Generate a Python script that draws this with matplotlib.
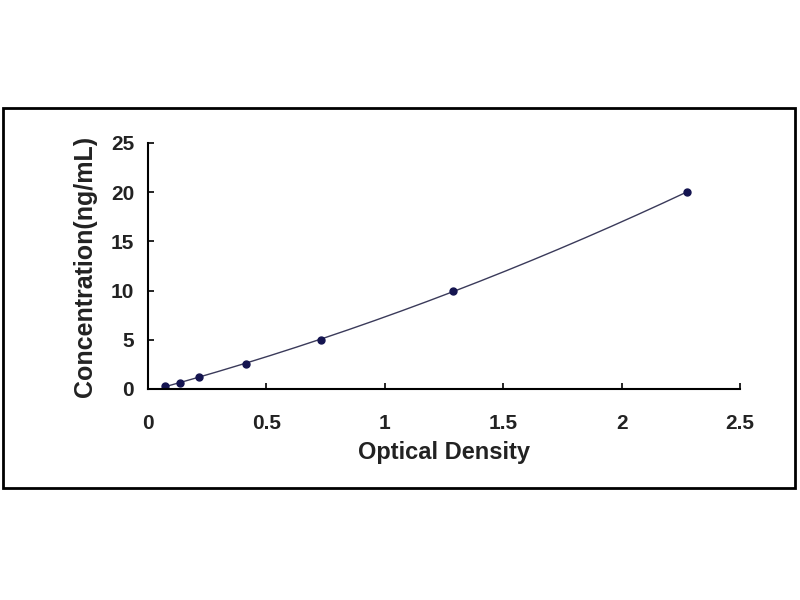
import numpy as np
import matplotlib.pyplot as plt
from matplotlib.patches import Rectangle

# standard curve points
od = [0.072, 0.135, 0.215, 0.413, 0.729, 1.288, 2.276]
conc = [0.31, 0.625, 1.25, 2.5, 5, 10, 20]

x_ticks = [0, 0.5, 1, 1.5, 2, 2.5]
x_tick_labels = ['0', '0.5', '1', '1.5', '2', '2.5']
y_ticks = [0, 5, 10, 15, 20, 25]

plt.rcParams['font.family'] = ['Liberation Sans', 'DejaVu Sans']
plt.rcParams['font.weight'] = 'bold'

fig = plt.figure(figsize=(8, 6), dpi=100)
fig.patches.append(Rectangle((3 / 800, 1 - 488 / 600), 792 / 800, 380 / 600,
                             transform=fig.transFigure, fill=False,
                             edgecolor='black', linewidth=2))

ax = fig.add_axes([0.185, 0.3517, 0.74, 0.41])

# trend line (polynomial fit through the standards)
coef = np.polyfit(od, conc, 2)
xs = np.linspace(min(od), max(od), 200)
ax.plot(xs, np.polyval(coef, xs), color='#3a3a5a', linewidth=1)
ax.plot(od, conc, 'o', color='#141450', markersize=5)

ax.set_xlim(0, 2.5)
ax.set_ylim(0, 25)
ax.set_xticks(x_ticks)
ax.set_xticklabels(x_tick_labels)
ax.set_yticks(y_ticks)
ax.spines['top'].set_visible(False)
ax.spines['right'].set_visible(False)
ax.spines['left'].set_linewidth(1.5)
ax.spines['bottom'].set_linewidth(1.5)
ax.tick_params(axis='x', direction='in', length=4, width=1.2, pad=18, labelsize=15)
ax.tick_params(axis='y', direction='in', length=4, width=1.2, pad=10, labelsize=15)
for lab in ax.get_xticklabels() + ax.get_yticklabels():
    lab.set_fontweight('bold')
    lab.set_color('#222222')

ax.set_xlabel('Optical Density', fontsize=17, fontweight='bold', color='#222222', labelpad=6)
ax.set_ylabel('Concentration(ng/mL)', fontsize=18, fontweight='bold', color='#222222', labelpad=10)

fig.savefig('out.png', dpi=100)
